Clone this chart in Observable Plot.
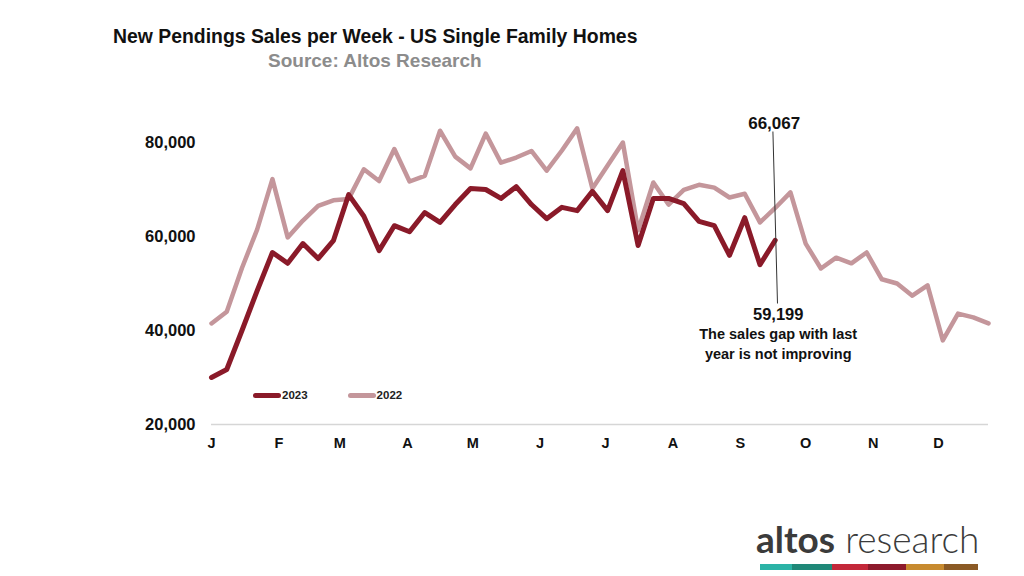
<!DOCTYPE html>
<html>
<head>
<meta charset="utf-8">
<script src="https://cdn.jsdelivr.net/npm/d3@7"></script>
<script src="https://cdn.jsdelivr.net/npm/@observablehq/plot@0.6"></script>
<style>
  html, body { margin: 0; padding: 0; background: #fff; }
  #page { position: relative; width: 1024px; height: 576px; overflow: hidden; font-family: "Liberation Sans", Arial, sans-serif; }
  #title { position: absolute; left: 113px; top: 25px; font-size: 19.4px; font-weight: bold; color: #111; white-space: nowrap; }
  #subtitle { position: absolute; left: 268px; top: 50px; font-size: 19px; font-weight: bold; color: #8c8c8c; white-space: nowrap; }
  #chart { position: absolute; left: 0; top: 80px; }
  #legend { position: absolute; left: 253px; top: 389px; font-size: 11.5px; font-weight: bold; color: #222; display: flex; align-items: center; }
  #legend .item { display: flex; align-items: center; margin-right: 40px; }
  #legend .sw { width: 28px; height: 5px; border-radius: 3px; margin-right: 1px; }
  #logo { position: absolute; left: 756px; top: 520px; font-family: Lato, "Open Sans", sans-serif; font-size: 37px; color: #3b3b3b; white-space: nowrap; line-height: 1; }
  #logo b { font-weight: 700; }
  #logo span { font-weight: 300; }
  #bar { position: absolute; left: 760px; top: 564px; height: 6px; display: flex; }
</style>
</head>
<body>
<div id="page">
  <div id="title"></div>
  <div id="subtitle"></div>
  <div id="chart"></div>
  <div id="legend"></div>
  <div id="logo"><b>altos</b><span> research</span></div>
  <div id="bar"></div>
</div>
<script>
// ---- data ----
const titleText = "New Pendings Sales per Week - US Single Family Homes";
const subtitleText = "Source: Altos Research";

const sales2023 = [30000,31700,40000,48500,56600,54300,58500,55300,59100,68900,64300,57000,62300,61000,65100,63000,66800,70200,70000,68100,70600,66800,63800,66200,65500,69600,65500,74000,58100,68100,68100,67000,63200,62300,56000,64000,54000,59199];
const sales2022 = [41500,44000,53300,61500,72200,59800,63400,66500,67700,68000,74300,71800,78600,71700,72900,82500,77000,74500,81900,75700,76800,78200,74000,78300,83000,70200,75100,80000,61300,71500,66800,69900,71000,70400,68300,69100,63000,66067,69400,58500,53200,55500,54300,56600,50900,50000,47400,49600,37900,43600,42800,41500];

const seriesNames = ["2023", "2022"];
const seriesColors = ["#8a1a29", "#c4969b"];
const seriesWidths = [5, 4.5];

const monthLabels = ["J","F","M","A","M","J","J","A","S","O","N","D"];
const monthStartDays = [0,31,59,90,120,151,181,212,243,273,304,334];
const yTicks = [20000, 40000, 60000, 80000];

const labelTop = "66,067";
const labelBottomValue = "59,199";
const labelBottomNote = "The sales gap with last\nyear is not improving";
const leader = [{x1: 36.85, x2: 37.15, y1: 82340, y2: 45745}];

const logoColors = ["#2bb3a6", "#1f8878", "#c3283a", "#8d1a2c", "#c78a2f", "#8b5a25"];
const logoWidths = [32, 40, 36, 38, 38, 34];

// ---- build ----
document.getElementById("title").textContent = titleText;
document.getElementById("subtitle").textContent = subtitleText;

const rows = [];
sales2023.forEach((v, i) => rows.push({week: i, value: v, series: "2023"}));
sales2022.forEach((v, i) => rows.push({week: i, value: v, series: "2022"}));

const monthTicks = monthStartDays.map(d => d / 7);
const last2023 = sales2023.length - 1;

const chart = Plot.plot({
  width: 1024,
  height: 400,
  marginLeft: 211,
  marginRight: 36,
  marginTop: 15,
  marginBottom: 56,
  style: {fontFamily: "'Liberation Sans', Arial, sans-serif", background: "transparent", overflow: "visible"},
  x: {domain: [0, 51]},
  y: {domain: [20000, 90000]},
  marks: [
    Plot.ruleY([20000], {stroke: "#d6d6d6", strokeWidth: 1.5}),
    Plot.axisY({ticks: yTicks, tickSize: 0, tickPadding: 16, tickFormat: d3.format(","), fontSize: 16.5, fontWeight: "bold", fill: "#111", label: null}),
    Plot.axisX({ticks: monthTicks, tickSize: 0, tickPadding: 13, tickFormat: (d, i) => monthLabels[i], fontSize: 14.5, fontWeight: "bold", fill: "#111", label: null}),
    Plot.line(rows.filter(d => d.series === "2022"), {x: "week", y: "value", stroke: seriesColors[1], strokeWidth: seriesWidths[1], strokeLinejoin: "round", strokeLinecap: "round"}),
    Plot.line(rows.filter(d => d.series === "2023"), {x: "week", y: "value", stroke: seriesColors[0], strokeWidth: seriesWidths[0], strokeLinejoin: "round", strokeLinecap: "round"}),
    Plot.link(leader, {x1: "x1", x2: "x2", y1: "y1", y2: "y2", stroke: "#333", strokeWidth: 1}),
    Plot.text([{x: last2023, y: sales2022[last2023]}], {x: "x", y: "y", text: () => labelTop, dy: -84, dx: -1, fontSize: 17, fontWeight: "bold", fill: "#111"}),
    Plot.text([{x: last2023, y: sales2023[last2023]}], {x: "x", y: "y", text: () => labelBottomValue, dy: 74, dx: 3, fontSize: 16.5, fontWeight: "bold", fill: "#111"}),
    Plot.text([{x: last2023, y: sales2023[last2023]}], {x: "x", y: "y", text: () => labelBottomNote, dy: 84, dx: 3, lineAnchor: "top", lineHeight: 1.4, fontSize: 14.5, fontWeight: "bold", fill: "#111"})
  ]
});
document.getElementById("chart").appendChild(chart);

// legend
const legend = document.getElementById("legend");
seriesNames.forEach((name, i) => {
  const item = document.createElement("div");
  item.className = "item";
  const sw = document.createElement("div");
  sw.className = "sw";
  sw.style.background = seriesColors[i];
  const t = document.createElement("span");
  t.textContent = name;
  item.appendChild(sw);
  item.appendChild(t);
  legend.appendChild(item);
});

// logo bar
const bar = document.getElementById("bar");
logoColors.forEach((c, i) => {
  const s = document.createElement("div");
  s.style.width = logoWidths[i] + "px";
  s.style.height = "6px";
  s.style.background = c;
  bar.appendChild(s);
});
</script>
</body>
</html>
